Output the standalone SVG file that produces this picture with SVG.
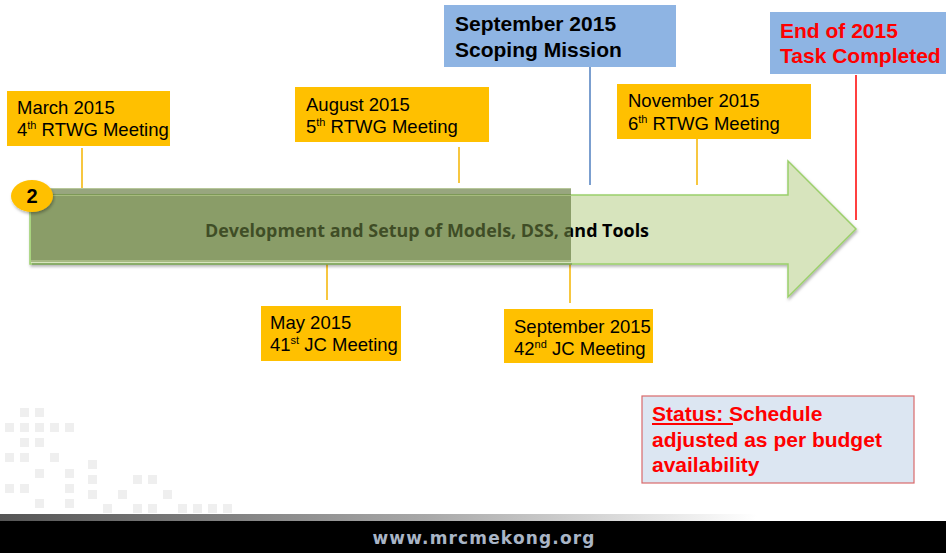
<svg xmlns="http://www.w3.org/2000/svg" width="946" height="553" viewBox="0 0 946 553">
<style>
.yb{fill:#ffc000}
.bb{fill:#8eb4e3}
.t18{font-family:"Liberation Sans",Arial,sans-serif;font-size:18.5px;fill:#000}
.tb21{font-family:"Liberation Sans",Arial,sans-serif;font-size:21px;font-weight:bold}
.sup{font-size:11px}
.cy{stroke:#f5b400;stroke-width:1.5}
.deco rect{fill:#efefef;width:9px;height:9px}
</style>
<defs>
<linearGradient id="band" x1="0" y1="0" x2="946" y2="0" gradientUnits="userSpaceOnUse">
<stop offset="0" stop-color="#555555"/>
<stop offset="0.45" stop-color="#a8a8a8"/>
<stop offset="0.8" stop-color="#ffffff"/>
<stop offset="1" stop-color="#ffffff"/>
</linearGradient>
<filter id="sh" x="-5%" y="-10%" width="110%" height="130%">
<feDropShadow dx="1" dy="2" stdDeviation="1.5" flood-color="#000" flood-opacity="0.3"/>
</filter>
</defs>
<rect width="946" height="553" fill="#fff"/>
<g id="decoration" class="deco">
<rect x="20" y="408"/><rect x="35" y="408"/>
<rect x="5" y="423"/><rect x="20" y="423"/><rect x="35" y="423"/><rect x="50" y="423"/><rect x="65" y="423"/>
<rect x="20" y="438"/><rect x="35" y="438"/>
<rect x="5" y="453"/><rect x="20" y="453"/><rect x="50" y="453"/>
<rect x="88" y="460"/>
<rect x="35" y="469"/><rect x="65" y="469"/>
<rect x="88" y="475"/><rect x="133" y="475"/><rect x="148" y="475"/>
<rect x="5" y="484"/><rect x="20" y="484"/><rect x="65" y="484"/>
<rect x="88" y="490"/><rect x="118" y="490"/><rect x="163" y="490"/>
<rect x="35" y="499"/><rect x="65" y="499"/>
<rect x="103" y="504"/><rect x="133" y="504"/><rect x="148" y="504"/><rect x="178" y="504"/><rect x="193" y="504"/><rect x="208" y="504"/><rect x="223" y="504"/>
</g>
<g id="footer">
<rect x="0" y="514" width="946" height="7" fill="url(#band)"/>
<rect x="0" y="521" width="946" height="32" fill="#000"/>
<text x="485" y="544" text-anchor="middle" font-family="'DejaVu Sans','Liberation Sans',sans-serif" font-size="17" font-weight="bold" fill="#a9b5c6" letter-spacing="3" textLength="225" lengthAdjust="spacing">www.mrcmekong.org</text>
</g>
<g id="connectors" fill="none">
<line class="cy" x1="82" y1="148" x2="82" y2="188"/>
<line class="cy" x1="459" y1="147" x2="459" y2="183"/>
<line x1="590" y1="67" x2="590" y2="185" stroke="#4f7fbf" stroke-width="1.5"/>
<line class="cy" x1="697" y1="130" x2="697" y2="185"/>
<line x1="856" y1="75" x2="856" y2="220" stroke="#ff0000" stroke-width="1.5"/>
<line class="cy" x1="327" y1="262" x2="327" y2="300"/>
<line class="cy" x1="570" y1="262" x2="570" y2="303"/>
</g>
<g id="timeline-arrow">
<polygon points="30,195 788,195 788,161 856,229 788,297 788,264 30,264" fill="#d7e4bd" stroke="#9bcf6b" stroke-width="1.5" filter="url(#sh)"/>
<text x="427" y="237" text-anchor="middle" font-family="'Open Sans','Liberation Sans',sans-serif" font-size="18" font-weight="bold" fill="#000" textLength="444" lengthAdjust="spacingAndGlyphs">Development and Setup of Models, DSS, and Tools</text>
<rect x="32" y="263" width="540" height="2" fill="#000" fill-opacity="0.18"/>
<rect x="31" y="188" width="540" height="74" fill="#61763a" fill-opacity="0.65"/>
<line x1="31" y1="188.5" x2="571" y2="188.5" stroke="#b7c79a" stroke-width="1"/>
<line x1="31" y1="195.5" x2="571" y2="195.5" stroke="#a6bb7e" stroke-width="1"/>
<line x1="31" y1="261" x2="571" y2="261" stroke="#b0c38d" stroke-width="1.5"/>
</g>
<g id="badge-2">
<ellipse cx="32" cy="196" rx="21" ry="16" fill="#ffc000" filter="url(#sh)"/>
<text x="32" y="203" text-anchor="middle" font-family="'Liberation Sans',Arial,sans-serif" font-size="20" font-weight="bold" fill="#000">2</text>
</g>
<g id="march-2015">
<rect class="yb" x="7" y="91" width="163" height="55"/>
<text class="t18" x="17" y="114">March 2015</text>
<text class="t18" x="17" y="136">4<tspan class="sup" dy="-7">th</tspan><tspan dy="7"> RTWG Meeting</tspan></text>
</g>
<g id="august-2015">
<rect class="yb" x="295" y="87" width="194" height="55"/>
<text class="t18" x="306" y="111">August 2015</text>
<text class="t18" x="306" y="133">5<tspan class="sup" dy="-7">th</tspan><tspan dy="7"> RTWG Meeting</tspan></text>
</g>
<g id="september-2015-scoping">
<rect class="bb" x="444" y="5" width="232" height="62"/>
<text class="tb21" x="455" y="31" fill="#000">September 2015</text>
<text class="tb21" x="455" y="57" fill="#000">Scoping Mission</text>
</g>
<g id="november-2015">
<rect class="yb" x="617" y="84" width="194" height="55"/>
<text class="t18" x="628" y="107">November 2015</text>
<text class="t18" x="628" y="130">6<tspan class="sup" dy="-7">th</tspan><tspan dy="7"> RTWG Meeting</tspan></text>
</g>
<g id="end-of-2015">
<rect class="bb" x="770" y="12" width="176" height="62"/>
<text class="tb21" x="780" y="38" fill="#ff0000">End of 2015</text>
<text class="tb21" x="780" y="63" fill="#ff0000">Task Completed</text>
</g>
<g id="may-2015">
<rect class="yb" x="261" y="306" width="140" height="55"/>
<text class="t18" x="270" y="329">May 2015</text>
<text class="t18" x="270" y="351">41<tspan class="sup" dy="-7">st</tspan><tspan dy="7"> JC Meeting</tspan></text>
</g>
<g id="september-2015-jc">
<rect class="yb" x="504" y="309" width="149" height="54"/>
<text class="t18" x="514" y="333">September 2015</text>
<text class="t18" x="514" y="355">42<tspan class="sup" dy="-7">nd</tspan><tspan dy="7"> JC Meeting</tspan></text>
</g>
<g id="status">
<rect x="642" y="396" width="272" height="87" fill="#dce6f2" stroke="#d9696b" stroke-width="1.2"/>
<g font-family="'Liberation Sans',Arial,sans-serif" font-size="21" font-weight="bold" fill="#ff0000">
<text x="652" y="421">Status: Schedule</text>
<text x="652" y="447">adjusted as per budget</text>
<text x="652" y="472">availability</text>
</g>
<line x1="652" y1="424" x2="733" y2="424" stroke="#ff0000" stroke-width="2"/>
</g>
</svg>
